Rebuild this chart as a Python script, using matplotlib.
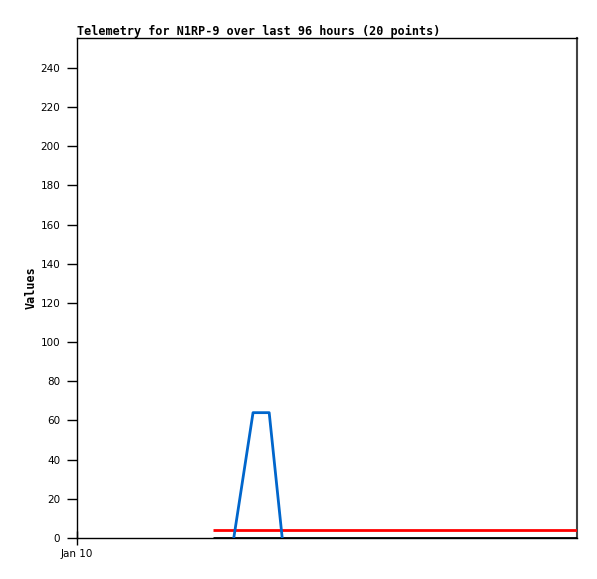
import matplotlib
matplotlib.use("Agg")
import matplotlib.pyplot as plt

# hours since start of window (Jan 10)
black_x = [26.1, 96]
black_y = [0, 0]
red_x = [26.1, 96]
red_y = [4, 4]
blue_x = [30.1, 33.8, 36.9, 39.4]
blue_y = [0, 64, 64, 0]

x_ticks = [0]
x_labels = ["Jan 10"]
y_ticks = list(range(0, 241, 20))

plt.rcParams['font.family'] = ['DejaVu Sans']
plt.rcParams['font.size'] = 7.5

fig = plt.figure(figsize=(5.97, 5.79), dpi=100)
ax = fig.add_axes([77/597, 41/579, 500/597, 500/579])

ax.plot(black_x, black_y, color='black', linewidth=2.0, solid_capstyle='butt', zorder=3)
ax.plot(red_x, red_y, color='#ff0000', linewidth=2.0, solid_capstyle='butt', zorder=3)
ax.plot(blue_x, blue_y, color='#0066cc', linewidth=2.0, zorder=4)

ax.set_xlim(0, 96)
ax.set_ylim(0, 255.3)
ax.set_xticks(x_ticks)
ax.set_xticklabels(x_labels)
ax.set_yticks(y_ticks)
ax.tick_params(axis='y', direction='out', length=7, width=1, pad=5)
ax.tick_params(axis='x', direction='inout', length=10, width=1, pad=3)

for s in ['top', 'left', 'bottom']:
    ax.spines[s].set_color('black')
    ax.spines[s].set_linewidth(1)
ax.spines['right'].set_color('#444444')
ax.spines['right'].set_linewidth(1.5)

ax.set_ylabel("Values", fontweight='bold', fontsize=8.5, labelpad=2,
              family='DejaVu Sans Mono')
ax.set_title("Telemetry for N1RP-9 over last 96 hours (20 points)", loc='left',
             fontweight='bold', fontsize=8.45, pad=2.5, family='DejaVu Sans Mono')

fig.savefig("out.png", dpi=100)
